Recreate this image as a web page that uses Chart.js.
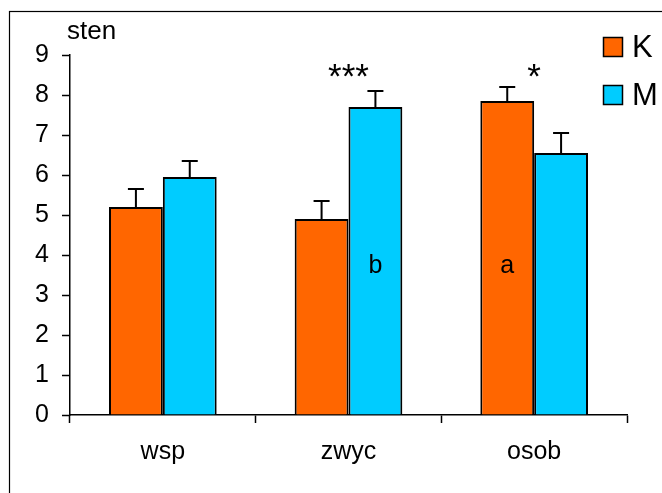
<!DOCTYPE html>
<html>
<head>
<meta charset="utf-8">
<script src="https://cdn.jsdelivr.net/npm/chart.js@4"></script>
<style>
  html, body { margin: 0; padding: 0; background: #fff; }
  #wrap { width: 662px; height: 493px; position: relative; }
</style>
</head>
<body>
<div id="wrap"><canvas id="myChart"></canvas></div>
<script>
// categories and series
var categories = ['wsp', 'zwyc', 'osob'];
var seriesK = [5.2, 4.9, 7.85];
var seriesM = [5.95, 7.7, 6.55];
// upper error (value + sd)
var errK = [0.45, 0.45, 0.35];
var errM = [0.4, 0.4, 0.5];
var yTicks = [0, 1, 2, 3, 4, 5, 6, 7, 8, 9];

// significance marks: text, category, dataset (-1 = group centre), y value
var markText = ['***', '*', 'b', 'a'];
var markCat = [1, 2, 1, 2];
var markSet = [-1, -1, 1, 0];
var markY = [8.45, 8.45, 3.72, 3.72];

var FONT = 'Liberation Sans, Arial, sans-serif';


// +++++++++++++++++++++++++ PLUGINS ++++++++++++++++++++++++++++++++++++

var framePlugin = {
    id: 'frame',
    beforeDraw: function(chart) {
        var ctx = chart.ctx;
        ctx.save();
        ctx.fillStyle = '#fff';
        ctx.fillRect(0, 0, chart.width, chart.height);
        ctx.strokeStyle = '#000';
        ctx.lineWidth = 1.2;
        ctx.strokeRect(9.5, 11.5, 800, 800);
        ctx.restore();
    }
};

var errorBarPlugin = {
    id: 'errorBars',
    afterDatasetsDraw: function(chart) {
        var ctx = chart.ctx;
        var yScale = chart.scales.y;
        var errs = [errK, errM];
        ctx.save();
        ctx.strokeStyle = '#000';
        ctx.lineWidth = 2;
        chart.data.datasets.forEach(function(ds, di) {
            var meta = chart.getDatasetMeta(di);
            meta.data.forEach(function(bar, i) {
                var top = yScale.getPixelForValue(ds.data[i] + errs[di][i]);
                ctx.beginPath();
                ctx.moveTo(bar.x, bar.y);
                ctx.lineTo(bar.x, top);
                ctx.moveTo(bar.x - 8, top);
                ctx.lineTo(bar.x + 8, top);
                ctx.stroke();
            });
        });
        ctx.restore();
    }
};

var textPlugin = {
    id: 'texts',
    afterDraw: function(chart) {
        var ctx = chart.ctx;
        var xScale = chart.scales.x;
        var yScale = chart.scales.y;
        ctx.save();
        ctx.fillStyle = '#000';
        ctx.textAlign = 'center';
        ctx.textBaseline = 'middle';
        for (var i = 0; i < markText.length; i++) {
            var x;
            if (markSet[i] < 0) {
                x = xScale.getPixelForValue(markCat[i]);
            } else {
                x = chart.getDatasetMeta(markSet[i]).data[markCat[i]].x;
            }
            var y = yScale.getPixelForValue(markY[i]);
            var big = markText[i].indexOf('*') >= 0;
            ctx.font = (big ? '35px ' : '25px ') + FONT;
            ctx.fillText(markText[i], x, y + (big ? 1 : 0));
        }

        // axis unit
        ctx.textAlign = 'left';
        ctx.font = '26px ' + FONT;
        ctx.fillText('sten', 67, 32);

        // legend
        ctx.font = '31px ' + FONT;
        chart.data.datasets.forEach(function(ds, di) {
            var ly = 47 + di * 48;
            ctx.fillStyle = ds.backgroundColor;
            ctx.fillRect(603.5, ly - 9.5, 19, 19);
            ctx.strokeStyle = '#000';
            ctx.lineWidth = 1.5;
            ctx.strokeRect(603.5, ly - 9.5, 19, 19);
            ctx.fillStyle = '#000';
            ctx.fillText(ds.label, 632, ly + 1);
        });
        ctx.restore();
    }
};


// +++++++++++++++++++++++++ ADDING CHART ++++++++++++++++++++++++++++++++++++

var canvas = document.getElementById('myChart').getContext('2d');
var myChart = new Chart(canvas, {
    type: 'bar',
    data: {
        labels: categories,
        datasets: [
            {
                label: 'K',
                data: seriesK,
                backgroundColor: '#FF6600',
                borderColor: '#000',
                borderWidth: 2,
            },
            {
                label: 'M',
                data: seriesM,
                backgroundColor: '#00CCFF',
                borderColor: '#000',
                borderWidth: 2,
            }
        ]
    },
    options: {
        responsive: true,
        maintainAspectRatio: false,
        animation: false,
        categoryPercentage: 0.58,
        barPercentage: 1,
        layout: { padding: { left: 0, top: 55, right: 35, bottom: 0 } },
        plugins: {
            legend: { display: false },
            tooltip: { enabled: false }
        },
        scales: {
            x: {
                grid: {
                    drawOnChartArea: false,
                    drawTicks: true,
                    tickLength: 8,
                    tickColor: '#000',
                    tickWidth: 1.5,
                    offset: true
                },
                border: { display: true, color: '#000', width: 1.5 },
                ticks: {
                    color: '#000',
                    padding: 14,
                    font: { family: FONT, size: 25 }
                },
                afterFit: function(scale) { scale.height = 78; }
            },
            y: {
                min: 0,
                max: 9,
                afterBuildTicks: function(scale) {
                    scale.ticks = yTicks.map(function(v) { return { value: v }; });
                },
                grid: {
                    drawOnChartArea: false,
                    drawTicks: true,
                    tickLength: 8,
                    tickColor: '#000',
                    tickWidth: 1.5
                },
                border: { display: true, color: '#000', width: 1.5 },
                ticks: {
                    color: '#000',
                    padding: 13,
                    font: { family: FONT, size: 25 }
                },
                afterFit: function(scale) { scale.width = 70; }
            }
        }
    },
    plugins: [framePlugin, errorBarPlugin, textPlugin]
});
</script>
</body>
</html>
